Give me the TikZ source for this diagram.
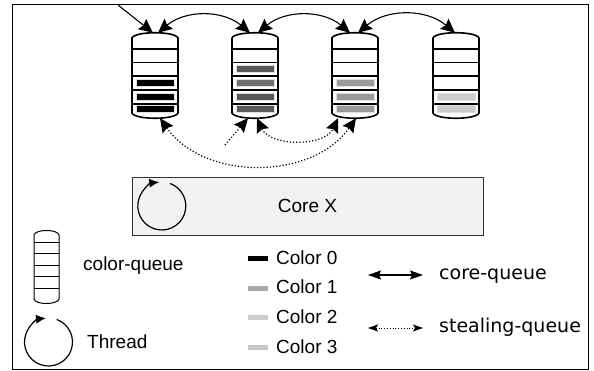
\documentclass[tikz,border=0pt]{standalone}
\usepackage{fontspec}
\setmainfont{Liberation Sans}
\newfontfamily\dejavu{DejaVu Sans}
\usetikzlibrary{arrows.meta, positioning}

\definecolor{qtwo}{HTML}{585858}
\definecolor{qtwob}{HTML}{6E6E6E}
\definecolor{qthree}{HTML}{9A9A9A}
\definecolor{qfour}{HTML}{CCCCCC}
\definecolor{cone}{HTML}{AAAAAA}
\definecolor{ctwo}{HTML}{CCCCCC}
\definecolor{cthree}{HTML}{C8C8C8}

\tikzset{
  qline/.style={line width=1.6pt},
  arr/.style={-{Stealth[length=14pt,width=13pt,inset=2pt]}},
  darr/.style={{Stealth[length=14pt,width=13pt,inset=2pt]}-{Stealth[length=14pt,width=13pt,inset=2pt]}},
  bar/.style={draw=gray!25, line width=0.8pt},
  lbl/.style={anchor=base west, inner sep=0pt, font=\fontsize{19}{23}\selectfont},
}

\begin{document}
\begin{tikzpicture}[x=1pt, y=1pt]
	\useasboundingbox (0,0) rectangle (594,-371);
	\draw[line width=1pt] (12,-5) rectangle (588,-369);

	% queues
	\foreach \x/\n in {155/1, 255/2, 355/3, 456/4} {
		\node[minimum width=46pt, minimum height=85pt, inner sep=0pt] (q\n) at (\x,-75.5) {};
		\draw[qline] (\x-23,-113) -- (\x-23,-38) .. controls (\x-20,-31) and (\x+20,-31) .. (\x+23,-38)
			-- (\x+23,-113) .. controls (\x+20,-120) and (\x-20,-120) .. cycle;
		\foreach \y in {49, 62.5, 76, 90, 104}
			\draw[qline] (\x-23,-\y) -- (\x+23,-\y);
	}
	\foreach \x/\y/\c in {155/83/black, 155/97/black, 155/109/black,
			255/69.25/qtwo, 255/83/qtwob, 255/97/qtwo, 255/109/qtwo,
			355/83/qthree, 355/97/qthree, 355/109/qthree,
			456/97/qfour, 456/109/qfour}
		\filldraw[bar, fill=\c] (\x-19,-\y+3.5) rectangle (\x+19,-\y-3.5);

	% core-queue
	\coordinate (in) at (118,-5);
	\draw[arr, line width=1.1pt] (in) -- ([xshift=-2pt]q1.north);
	\draw[darr, line width=1.1pt] ([xshift=3pt]q1.north) to[out=40, in=140] ([xshift=-5pt]q2.north);
	\draw[darr, line width=1.1pt] ([xshift=3pt]q2.north) to[out=40, in=140] ([xshift=-5pt]q3.north);
	\draw[darr, line width=1.1pt] ([xshift=3pt]q3.north) to[out=40, in=140] ([xshift=-1pt]q4.north);

	% stealing-queue
	\coordinate (st) at (225,-145);
	\draw[arr, dotted, line width=1.2pt] (st) -- ([xshift=-7pt]q2.south);
	\draw[darr, dotted, line width=1.2pt] ([xshift=2pt]q2.south) to[out=-65, in=-115] ([xshift=-17pt]q3.south);
	\draw[darr, dotted, line width=1.2pt] ([xshift=5pt]q1.south) to[out=-55, in=-125] ([xshift=1pt]q3.south);

	\node[draw=black!80, fill=gray!10, minimum width=351pt, minimum height=58pt, inner sep=0pt,
		font=\fontsize{19}{23}\selectfont] (core) at (307.5,-206) {Core X};
	\draw[line width=1.2pt, -{Latex[length=10pt,width=9pt]}] ([xshift=30pt]core.west) ++(70:24)
		arc[start angle=70, end angle=-264, radius=24];

	%legende
	\node[minimum width=25pt, minimum height=73pt, inner sep=0pt] (lq) at (46.5,-266.5) {};
	\draw[line width=1pt] (34,-299) -- (34,-235) .. controls (35.5,-229) and (57.5,-229) .. (59,-235)
		-- (59,-299) .. controls (57.5,-305) and (35.5,-305) .. cycle;
	\foreach \y in {243, 254, 266, 277, 288}
		\draw[line width=1pt] (34,-\y) -- (59,-\y);
	\node[lbl] (lqtext) at (83,-270) {color-queue};

	\coordinate (thr) at (48.5,-342);
	\draw[line width=1.2pt, -{Latex[length=10pt,width=9pt]}] (thr) ++(70:24)
		arc[start angle=70, end angle=-264, radius=24];
	\node[lbl] (thrtext) at (87,-348) {Thread};

	\foreach \c/\n/\y in {black/0/259, cone/1/288, ctwo/2/317, cthree/3/347} {
		\fill[\c] (248,-\y+2.5) rectangle (268,-\y-2.5);
		\node[lbl] (col\n) at (276,-\y-6) {Color \n};
	}

	\coordinate (cqa) at (368,-275);
	\coordinate (cqb) at (423,-275);
	\draw[{Stealth[length=13pt,width=9pt,inset=2pt]}-{Stealth[length=13pt,width=9pt,inset=2pt]}, line width=1.2pt] (cqa) -- (cqb);
	\node[lbl, font=\dejavu\fontsize{19}{23}\selectfont] (cqtext) at (439,-279.3) {core-queue};

	\coordinate (sqa) at (368,-328);
	\coordinate (sqb) at (423,-328);
	\draw[{Stealth[length=10pt,width=7pt,inset=2pt]}-{Stealth[length=10pt,width=7pt,inset=2pt]}, dotted, line width=0.8pt] (sqa) -- (sqb);
	\node[lbl, font=\dejavu\fontsize{19}{23}\selectfont] (sqtext) at (439,-332.7) {stealing-queue};
\end{tikzpicture}
\end{document}
